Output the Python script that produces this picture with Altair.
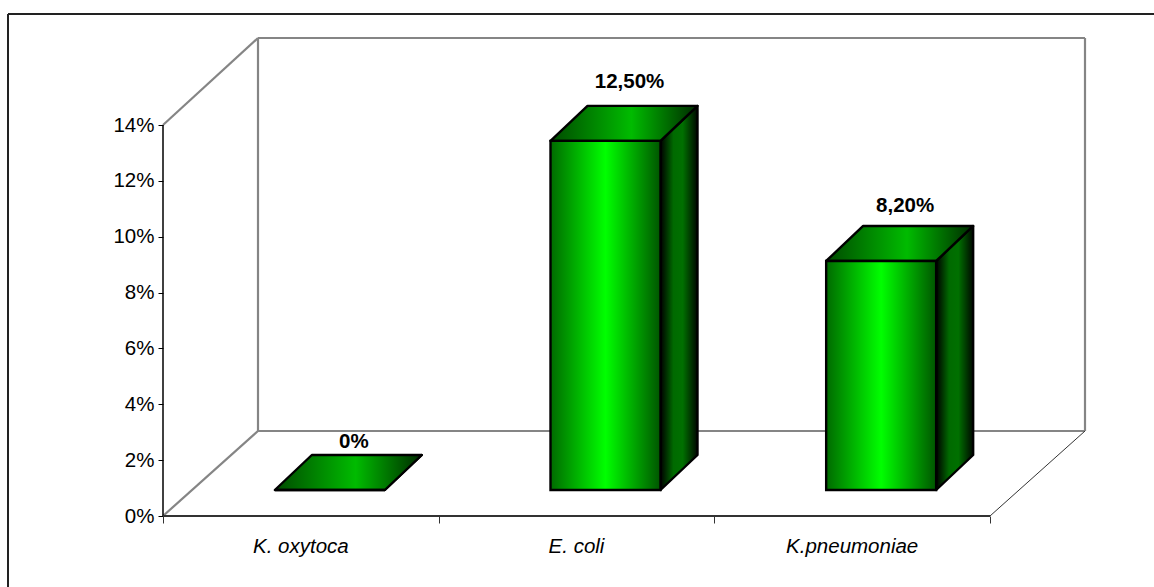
import altair as alt
import pandas as pd

# Chart values
species = ["K. oxytoca", "E. coli", "K.pneumoniae"]
prevalence = [0.0, 12.5, 8.2]
value_labels = ["0%", "12,50%", "8,20%"]
y_ticks = [0, 2, 4, 6, 8, 10, 12, 14]
x_ticks = [0, 1, 2, 3]

FONT = "Liberation Sans"
FONT_SIZE = 20.5

# Canvas and pixel layout of the pseudo-3D box
W, H = 1154, 587
X0, X3 = 163, 990      # front floor edge
Y0, Y14 = 516, 125     # front left axis, 0% to 14%
PX_X = (X3 - X0) / 3
PX_Y = (Y0 - Y14) / 14
x_domain = [-X0 / PX_X, (W - X0) / PX_X]
y_domain = [-(H - Y0) / PX_Y, Y0 / PX_Y]

floor_dx, floor_dy = 95 / PX_X, 85 / PX_Y   # depth of the floor
wall_top = 14 + 87 / PX_Y                   # top edge of the back wall
base_dx, base_dy = 29 / PX_X, 26 / PX_Y     # where bars stand on the floor
bar_dx, bar_dy = 37 / PX_X, 35 / PX_Y       # depth of each bar
bar_w = 110 / PX_X

x_enc = alt.X(
    "x:Q",
    scale=alt.Scale(domain=x_domain, nice=False, zero=False),
    axis=alt.Axis(values=x_ticks, orient="bottom", offset=Y0 - H, domain=False, grid=False,
                  labels=False, title=None, tickColor="#333333", tickSize=7, tickWidth=1),
)
y_enc = alt.Y(
    "y:Q",
    scale=alt.Scale(domain=y_domain, nice=False, zero=False),
    axis=alt.Axis(values=y_ticks, orient="left", offset=-X0, domain=False, grid=False,
                  title=None, labelExpr="datum.value + '%'", tickColor="#000000",
                  tickSize=5, tickWidth=1, labelFont=FONT,
                  labelFontSize=FONT_SIZE, labelColor="#000000", labelPadding=4),
)

rows_front, rows_side, rows_top, rows_label = [], [], [], []
for i, (name, v, lab) in enumerate(zip(species, prevalence, value_labels)):
    left = i + 0.5 - bar_w / 2 + base_dx
    right = left + bar_w
    rows_front.append({"x": left, "x2": right, "y": base_dy, "y2": base_dy + v})
    rows_side += [
        {"bar": name, "x": right, "y": base_dy, "y2": base_dy + v},
        {"bar": name, "x": right + bar_dx, "y": base_dy + bar_dy, "y2": base_dy + bar_dy + v},
    ]
    rows_top += [
        {"bar": name, "y": base_dy + v, "x": left, "x2": right},
        {"bar": name, "y": base_dy + v + bar_dy, "x": left + bar_dx, "x2": right + bar_dx},
    ]
    lift = (42 + 0.9 * v) / PX_Y
    rows_label.append({"x": (left + right) / 2 + 24 / PX_X, "y": base_dy + v + lift, "t": lab})


def gradient(stops):
    return alt.Gradient(
        gradient="linear", x1=0, x2=1, y1=0, y2=0,
        stops=[alt.GradientStop(offset=o, color=c) for o, c in stops],
    )


front_fill = gradient([(0, "#006a00"), (0.5, "#00ff00"), (1, "#005500")])
top_fill = gradient([(0, "#004a00"), (0.55, "#00bb00"), (1, "#002a00")])
side_fill = gradient([(0, "#000000"), (0.35, "#006a00"), (0.6, "#007000"), (1, "#000800")])

# Back wall and floor outline
gray_lines = pd.DataFrame([
    {"x": 0, "y": 14, "x2": floor_dx, "y2": wall_top},
    {"x": floor_dx, "y": wall_top, "x2": 3 + floor_dx, "y2": wall_top},
    {"x": floor_dx, "y": floor_dy, "x2": floor_dx, "y2": wall_top},
    {"x": 3 + floor_dx, "y": floor_dy, "x2": 3 + floor_dx, "y2": wall_top},
    {"x": floor_dx, "y": floor_dy, "x2": 3 + floor_dx, "y2": floor_dy},
    {"x": 0, "y": 0, "x2": floor_dx, "y2": floor_dy},
])
walls = alt.Chart(gray_lines).mark_rule(color="#858585", strokeWidth=2.2).encode(
    x=x_enc, y=y_enc, x2="x2:Q", y2="y2:Q"
)
floor_edge = alt.Chart(pd.DataFrame([{"x": 3, "y": 0, "x2": 3 + floor_dx, "y2": floor_dy}])).mark_rule(
    color="#333333", strokeWidth=1
).encode(x=x_enc, y=y_enc, x2="x2:Q", y2="y2:Q")

# Axis lines drawn inside the canvas
y_line = alt.Chart(pd.DataFrame([{"x": 0, "x2": 0, "y": 0, "y2": 14}])).mark_rule(
    color="#000000", strokeWidth=1.5
).encode(x=x_enc, x2="x2:Q", y=y_enc, y2="y2:Q")
x_line = alt.Chart(pd.DataFrame([{"x": 0, "x2": 3, "y": 0, "y2": 0}])).mark_rule(
    color="#333333", strokeWidth=2
).encode(x=x_enc, x2="x2:Q", y=y_enc, y2="y2:Q")

# Bar faces
side = alt.Chart(pd.DataFrame(rows_side)).mark_area(
    fill=side_fill, stroke="#000000", strokeWidth=2.4, strokeJoin="round", orient="vertical"
).encode(x=x_enc, y=y_enc, y2="y2:Q", detail="bar:N")
top = alt.Chart(pd.DataFrame(rows_top)).mark_area(
    fill=top_fill, stroke="#000000", strokeWidth=2.4, strokeJoin="round", orient="horizontal"
).encode(y=y_enc, x=x_enc, x2="x2:Q", detail="bar:N")
front = alt.Chart(pd.DataFrame(rows_front)).mark_rect(
    fill=front_fill, stroke="#000000", strokeWidth=2.4
).encode(x=x_enc, x2="x2:Q", y=y_enc, y2="y2:Q")

value_text = alt.Chart(pd.DataFrame(rows_label)).mark_text(
    font=FONT, fontSize=FONT_SIZE, fontWeight="bold", color="#000000",
    align="center", baseline="alphabetic",
).encode(x=x_enc, y=y_enc, text="t:N")

category_text = alt.Chart(pd.DataFrame({"x": [i + 0.5 for i in range(3)], "t": species})).mark_text(
    font=FONT, fontSize=FONT_SIZE, fontStyle="italic", color="#000000",
    align="center", baseline="alphabetic",
).encode(x=x_enc, y=alt.value(553), text="t:N")

# Open frame: left and top edges only
frame_top = alt.Chart(pd.DataFrame({"k": [0]})).mark_rule(color="#222222", strokeWidth=2).encode(
    x=alt.value(8), x2=alt.value(W), y=alt.value(14)
)
frame_left = alt.Chart(pd.DataFrame({"k": [0]})).mark_rule(color="#222222", strokeWidth=2).encode(
    x=alt.value(8), y=alt.value(14), y2=alt.value(H)
)

chart = alt.layer(
    walls, floor_edge, y_line, x_line, side, top, front, value_text, category_text,
    frame_top, frame_left,
).properties(
    width=W, height=H, padding=0,
    autosize=alt.AutoSizeParams(type="none"),
    background="#ffffff",
).configure_view(stroke=None)

chart.save("out.html", embed_options={"renderer": "svg", "actions": False})
